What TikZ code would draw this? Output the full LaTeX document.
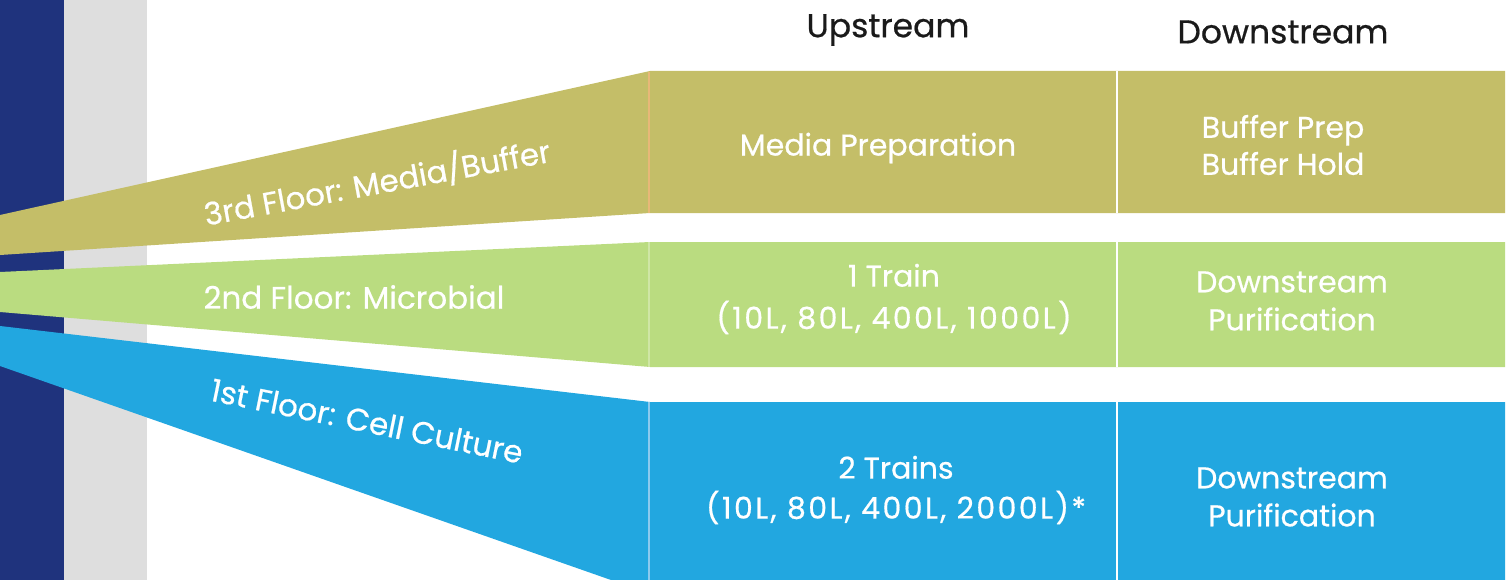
\documentclass[tikz,border=0pt]{standalone}
\usepackage{fontspec}
\setmainfont{Poppins}
\newfontfamily\popb[FakeBold=0.6]{Poppins}
\newfontfamily\popwide[FakeBold=0.6,LetterSpace=8]{Poppins}
\definecolor{navy}{HTML}{1F337D}
\definecolor{greybar}{HTML}{DEDEDE}
\definecolor{olive}{HTML}{C4BE68}
\definecolor{lgreen}{HTML}{BADC80}
\definecolor{sky}{HTML}{22A7E0}
\definecolor{oliveline}{HTML}{E8B878}
\definecolor{greenline}{HTML}{CFE6A6}
\definecolor{skyline}{HTML}{8CCAEE}
\definecolor{headtext}{HTML}{1A1A1A}
\begin{document}
\begin{tikzpicture}[x=1pt,y=-1pt,
  head/.style={text=headtext,font=\popb\fontsize{33}{38}\selectfont,inner sep=0pt},
  cell/.style={text=white,align=center,inner sep=0pt,font=\popb\fontsize{30}{38}\selectfont},
  floorlbl/.style={text=white,inner sep=0pt,font=\popb\fontsize{31}{32}\selectfont},
  sep/.style={line width=2.5pt,white}]
\useasboundingbox (0,0) rectangle (1511,580);
\fill[navy] (0,0) rectangle (64,580);
\fill[greybar] (64,0) rectangle (147,580);
% bands
\fill[olive] (0,215) -- (650,71) -- (1505,71) -- (1505,213) -- (650,213) -- (0,255) -- cycle;
\fill[lgreen] (0,272) -- (650,242) -- (1505,242) -- (1505,367) -- (650,367) -- (0,312) -- cycle;
\fill[sky] (0,326) -- (650,402) -- (1505,402) -- (1505,580) -- (611,580) -- (0,366) -- cycle;
% column separators
\coordinate (o1) at (649,72); \coordinate (o2) at (649,213);
\coordinate (g1) at (649,242); \coordinate (g2) at (649,367);
\coordinate (b1) at (649,402); \coordinate (b2) at (649,580);
\draw[oliveline,line width=2pt] (o1) -- (o2);
\draw[greenline,line width=2pt] (g1) -- (g2);
\draw[skyline,line width=2pt] (b1) -- (b2);
\coordinate (w1) at (1117,71); \coordinate (w2) at (1117,213);
\coordinate (w3) at (1117,242); \coordinate (w4) at (1117,367);
\coordinate (w5) at (1117,402); \coordinate (w6) at (1117,580);
\draw[sep] (w1) -- (w2);
\draw[sep] (w3) -- (w4);
\draw[sep] (w5) -- (w6);
% headers
\node[head] (up) at (888,30) {Upstream};
\node[head] (down) at (1283,32) {Downstream};
% cells
\node[cell] (media) at (878,148) {Media Preparation};
\node[cell,font=\popb\fontsize{30}{37}\selectfont] (buffer) at (1283,145) {Buffer Prep\\Buffer Hold};
\node[cell,font=\popb\fontsize{30}{42}\selectfont] (train1) at (894,299) {1 Train\\{\popwide (10L, 80L, 400L, 1000L)}};
\node[cell] (dsp2) at (1292,301) {Downstream\\Purification};
\node[cell,font=\popb\fontsize{30}{40}\selectfont] (train2) at (896,490) {2 Trains\\{\popwide (10L, 80L, 400L, 2000L)*}};
\node[cell] (dsp1) at (1292,497) {Downstream\\Purification};
% floor labels
\node[floorlbl,rotate=10.5] (f3) at (377,182) {3rd Floor: Media/Buffer};
\node[floorlbl] (f2) at (354,297) {2nd Floor: Microbial};
\node[floorlbl,rotate=-11.5] (f1) at (367,421) {1st Floor: Cell Culture};
\end{tikzpicture}
\end{document}
